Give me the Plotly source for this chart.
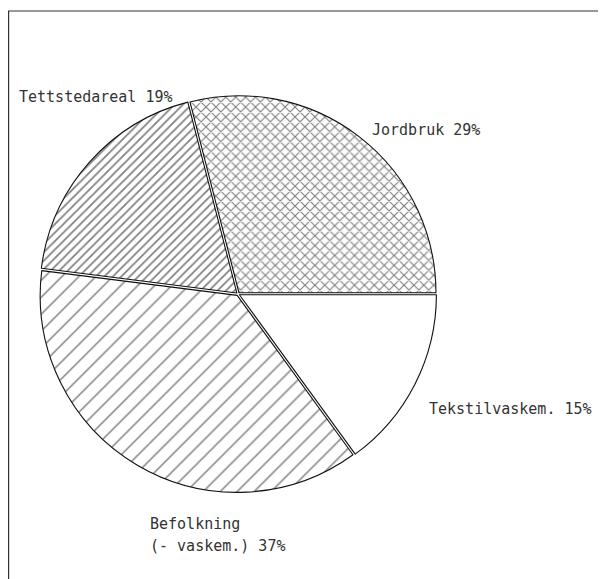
import plotly.graph_objects as go

labels = ["Jordbruk", "Tettstedareal", "Befolkning (- vaskem.)", "Tekstilvaskem."]
values = [29, 19, 37, 15]
label_lines = [["Jordbruk 29%"], ["Tettstedareal 19%"], ["Befolkning", "(- vaskem.) 37%"], ["Tekstilvaskem. 15%"]]
shapes_pat = ["x", "/", "/", ""]
pat_sizes = [7, 6, 12, 8]
pat_solid = [0.3, 0.28, 0.12, 0.1]
pulls = [0.008, 0.008, 0.008, 0.008]

# page has an 8px body margin; figure coordinates below are relative to it
W, H = 598, 571
cx, cy, r = 230, 286, 197
R = r * (1 + max(pulls))
# first slice starts at 3 o'clock and runs counterclockwise
rot = 90 - 360 * values[0] / sum(values)

fig = go.Figure()
fig.add_trace(go.Pie(
    labels=labels, values=values, sort=False, direction="counterclockwise", rotation=rot,
    textinfo="none", showlegend=False, pull=pulls,
    marker=dict(colors=["white"] * 4, line=dict(color="#111", width=1.1),
                pattern=dict(shape=shapes_pat, size=pat_sizes, solidity=pat_solid,
                             fgcolor="#000", bgcolor="white", fillmode="overlay")),
    domain=dict(x=[(cx - R) / W, (cx + R) / W], y=[1 - (cy + R) / H, 1 - (cy - R) / H]),
))

ann_pos = [[(362, 122)], [(9, 89)], [(140, 516), (140, 538)], [(419, 401)]]
annotations = []
for poss, lines in zip(ann_pos, label_lines):
    for (x, y), t in zip(poss, lines):
        annotations.append(dict(x=x / W, y=1 - y / H, xref="paper", yref="paper", text=t,
                                showarrow=False, xanchor="left", yanchor="middle", align="left",
                                font=dict(family="DejaVu Sans Mono", size=15, color="#333")))

fig.update_layout(
    width=W, height=H, margin=dict(l=0, r=0, t=0, b=0),
    paper_bgcolor="white", plot_bgcolor="white",
    annotations=annotations,
    shapes=[dict(type="rect", xref="paper", yref="paper", x0=0.6 / W, x1=595.5 / W,
                 y0=-0.05, y1=1 - 3 / H, line=dict(color="#333", width=1.2))],
)
fig.write_html("out.html")
